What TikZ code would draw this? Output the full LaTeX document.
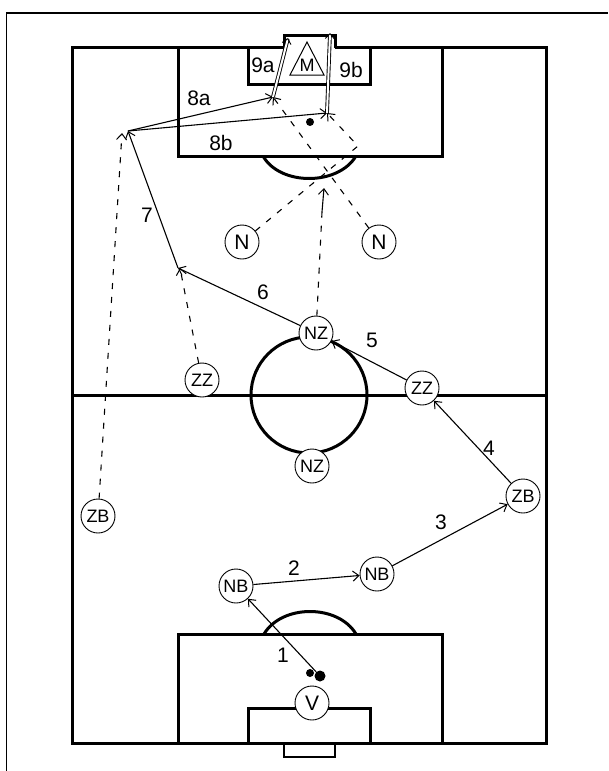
\documentclass[tikz,border=0pt]{standalone}
\usepackage{fontspec}
\setmainfont{Liberation Sans}
\usetikzlibrary{arrows.meta}
\tikzset{
 x=1pt,y=-1pt,
 field/.style={line width=3pt,draw=black,line join=miter},
 player/.style={circle,draw=black,line width=0.9pt,fill=white,minimum size=34pt,inner sep=0pt,font=\fontsize{18}{18}\selectfont},
 bigplayer/.style={player,font=\fontsize{21}{21}\selectfont},
 tip/.style={-{Straight Barb[length=6pt,width=10pt,line width=1pt]}},
 pass/.style={line width=1.1pt,tip},
 run/.style={line width=1.1pt,dash pattern=on 6pt off 8pt,tip},
 runplain/.style={line width=1.1pt,dash pattern=on 6pt off 8pt},
 shot/.style={line width=0.9pt,double=white,double distance=2pt,-{Straight Barb[length=5pt,width=9pt,line width=0.9pt]}},
 lab/.style={font=\fontsize{21}{21}\selectfont,inner sep=0pt},
 ball/.style={circle,fill=black,inner sep=0pt},
}
\begin{document}
\begin{tikzpicture}
\useasboundingbox (0,0) rectangle (608,771);
\fill[white] (0,0) rectangle (608,771);
\draw[line width=1.8pt] (6.5,771) -- (6.5,13) -- (608,13);
% field
\draw[field] (284,47) -- (72,47) -- (72,743) -- (546,743) -- (546,47) -- (335,47);
\draw[field] (72,395) -- (546,395);
\draw[field] (178,47) -- (178,156) -- (442,156) -- (442,47);
\draw[field] (248,47) -- (248,84) -- (370,84) -- (370,47);
\draw[field] (178,743) -- (178,634) -- (442,634) -- (442,743);
\draw[field] (248,743) -- (248,708) -- (370,708) -- (370,743);
\draw[field] (284,48) -- (284,35) -- (335,35) -- (335,48);
\draw[line width=2.2pt] (284,743) -- (284,757) -- (335,757) -- (335,743);
\draw[field] (309,395) circle (58);
\draw[field] (263,156) .. controls (280,186) and (338,186) .. (356,156);
\draw[field] (264,634) .. controls (282,604) and (338,604) .. (356,634);
% goalkeeper triangle
\draw[line width=1pt,fill=white] (307,42) -- (324,75) -- (290,75) -- cycle;
\node[inner sep=0pt,font=\fontsize{18}{18}\selectfont] (keeper) at (307,65) {M};
% balls
\node[ball,minimum size=11pt] (ballA) at (320,676) {};
\node[ball,minimum size=8pt] (ballB) at (310,673) {};
\node[ball,minimum size=8pt] (ballC) at (310,122) {};
% players
\node[player] (zbL) at (98,516) {ZB};
\node[player] (zbR) at (523,496) {ZB};
\node[player] (nbA) at (236,586) {NB};
\node[player] (nbB) at (377,574) {NB};
\node[player] (zzL) at (202,380) {ZZ};
\node[player] (zzR) at (422,388) {ZZ};
\node[player] (nzT) at (316,333) {NZ};
\node[player] (nzB) at (312,466) {NZ};
\node[bigplayer] (nL) at (242,242) {N};
\node[bigplayer] (nR) at (379,242) {N};
\node[bigplayer] (vv) at (312,703) {V};
% way points
\coordinate (p6) at (178,268);
\coordinate (p7) at (128,131);
\coordinate (p8a) at (273,97);
\coordinate (p8b) at (327,113);
\coordinate (kink) at (358,146);
\coordinate (p9a) at (288,38);
\coordinate (p9b) at (330,33);
\coordinate (upA) at (322,212);
\coordinate (upB) at (324,188);
\coordinate (zbEnd) at (122,133);
\coordinate (zzEnd) at (180,268);
% passes
\draw[pass] (ballA) -- (nbA);
\draw[pass] (nbA) -- (nbB);
\draw[pass] (nbB) -- (zbR);
\draw[pass] (zbR) -- (zzR);
\draw[pass] (zzR) -- (nzT);
\draw[pass] (nzT) -- (p6);
\draw[pass] (p6) -- (p7);
\draw[pass] (p7) -- (p8a);
\draw[pass] (p7) -- (p8b);
% runs
\draw[run] (zbL) -- (zbEnd);
\draw[run] (zzL) -- (zzEnd);
\draw[runplain] (nzT) -- (upA);
\draw[pass] (upA) -- (upB);
\draw[run] (nR) -- (p8a);
\draw[run] (nL) -- (kink) -- (p8b);
% shots
\draw[shot] (p8a) -- (p9a);
\draw[shot] (p8b) -- (p9b);
% labels
\node[lab] (l1) at (283,655) {1};
\node[lab] (l2) at (294,568) {2};
\node[lab] (l3) at (441,522) {3};
\node[lab] (l4) at (489,448) {4};
\node[lab] (l5) at (372,340) {5};
\node[lab] (l6) at (263,292) {6};
\node[lab] (l7) at (147,215) {7};
\node[lab] (l8a) at (199,98) {8a};
\node[lab] (l8b) at (221,143) {8b};
\node[lab] (l9a) at (263,65) {9a};
\node[lab] (l9b) at (351,70) {9b};
\end{tikzpicture}
\end{document}
